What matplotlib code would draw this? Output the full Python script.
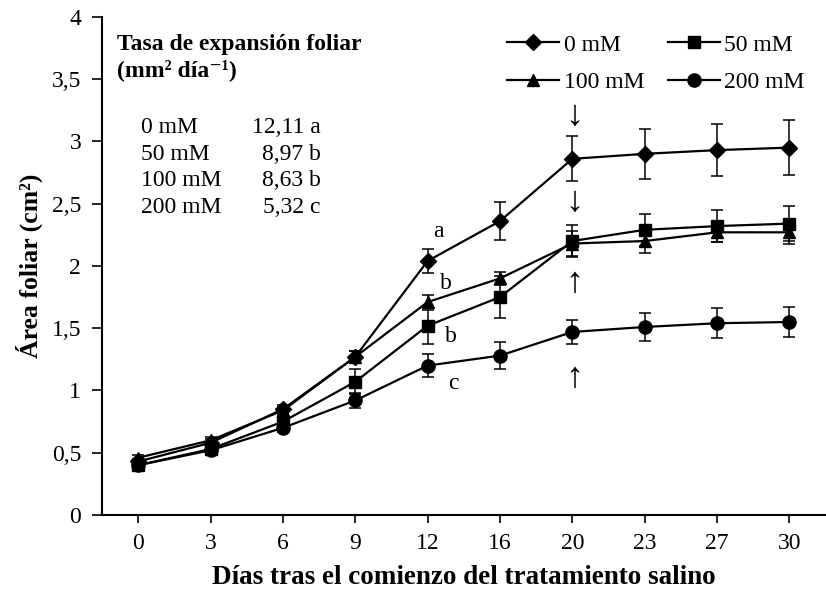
import numpy as np
import matplotlib.pyplot as plt
from matplotlib.ticker import FuncFormatter

plt.rcParams['font.family'] = ['Liberation Serif', 'DejaVu Serif']
plt.rcParams['font.size'] = 17

dias = ["0", "3", "6", "9", "12", "16", "20", "23", "27", "30"]

area_0 = [0.43, 0.58, 0.85, 1.27, 2.04, 2.36, 2.86, 2.90, 2.93, 2.95]
err_0 = [0.02, 0.03, 0.03, 0.05, 0.10, 0.15, 0.18, 0.20, 0.21, 0.22]
area_50 = [0.40, 0.53, 0.75, 1.07, 1.52, 1.75, 2.20, 2.29, 2.32, 2.34]
err_50 = [0.02, 0.03, 0.04, 0.10, 0.15, 0.17, 0.13, 0.13, 0.13, 0.14]
area_100 = [0.46, 0.60, 0.84, 1.27, 1.71, 1.90, 2.18, 2.20, 2.27, 2.27]
err_100 = [0.02, 0.03, 0.03, 0.05, 0.06, 0.05, 0.10, 0.10, 0.08, 0.09]
area_200 = [0.40, 0.52, 0.70, 0.92, 1.20, 1.28, 1.47, 1.51, 1.54, 1.55]
err_200 = [0.02, 0.03, 0.03, 0.06, 0.09, 0.11, 0.10, 0.11, 0.12, 0.12]

tratamientos = ["0 mM", "50 mM", "100 mM", "200 mM"]
tasas = ["12,11 a", "8,97 b", "8,63 b", "5,32 c"]

fig = plt.figure(figsize=(8.26, 6.01), dpi=100)
ax = fig.add_axes([0.1235, 0.143, 0.876, 0.829])

x = np.arange(len(dias))
series = [(area_0, err_0, 'D', 8.5, "0 mM"),
          (area_50, err_50, 's', 8.5, "50 mM"),
          (area_100, err_100, '^', 9, "100 mM"),
          (area_200, err_200, 'o', 9.5, "200 mM")]
handles = []
for y, e, m, ms, lab in series:
    ax.errorbar(x, y, yerr=e, fmt='none', ecolor='black', elinewidth=1.1,
                capsize=4, capthick=1.1)
    h, = ax.plot(x, y, color='black', marker=m, markersize=ms,
                 linewidth=1.6, label=lab)
    handles.append(h)

# letras de significacion en el dia 12
ax.text(4.15, 2.28, "a", ha='center', va='center', fontsize=17)
ax.text(4.25, 1.86, "b", ha='center', va='center', fontsize=17)
ax.text(4.32, 1.43, "b", ha='center', va='center', fontsize=17)
ax.text(4.36, 1.06, "c", ha='center', va='center', fontsize=17)

# flechas en el dia 20
for ya, ch in [(3.2, "\u2193"), (2.51, "\u2193"), (1.86, "\u2191"), (1.10, "\u2191")]:
    ax.text(6.03, ya, ch, ha='center', va='center', fontsize=26)

# recuadro con tasas
ax.text(-0.29, 3.78, "Tasa de expansión foliar", fontweight='bold', fontsize=17, va='center')
ax.text(-0.29, 3.57, "(mm² día\u207b¹)", fontweight='bold', fontsize=17, va='center')
for i, (t, v) in enumerate(zip(tratamientos, tasas)):
    yy = 3.11 - i * 0.213
    ax.text(0.04, yy, t, va='center')
    ax.text(2.52, yy, v, va='center', ha='right')

ax.set_xlim(-0.5, 9.5)
ax.set_ylim(0, 4)
ax.set_xticks(x)
ax.set_xticklabels(dias)
ax.set_yticks(np.arange(0, 4.01, 0.5))
ax.yaxis.set_major_formatter(FuncFormatter(lambda v, p: f"{v:g}".replace('.', ',')))
ax.tick_params(axis='x', direction='out', length=6, width=1.2, labelsize=17, pad=7)
ax.tick_params(axis='y', direction='out', length=7, width=1.2, labelsize=17, pad=8)

for s in ['top', 'right']:
    ax.spines[s].set_visible(False)
for s in ['left', 'bottom']:
    ax.spines[s].set_linewidth(1.5)

ax.set_ylabel("Área foliar (cm²)", fontweight='bold', fontsize=18.5, labelpad=6)
ax.set_xlabel("Días tras el comienzo del tratamiento salino", fontweight='bold',
              fontsize=19.5, labelpad=8)

order = [0, 2, 1, 3]
ax.legend([handles[i] for i in order], [handles[i].get_label() for i in order],
          loc='upper left', bbox_to_anchor=(507 / 826, 1 - 34 / 601),
          bbox_transform=fig.transFigure, ncol=2, frameon=False,
          borderpad=0, borderaxespad=0, fontsize=17, handlelength=2.2,
          columnspacing=1.0, handletextpad=0.2, labelspacing=0.68)

plt.savefig("out.png", dpi=100)
